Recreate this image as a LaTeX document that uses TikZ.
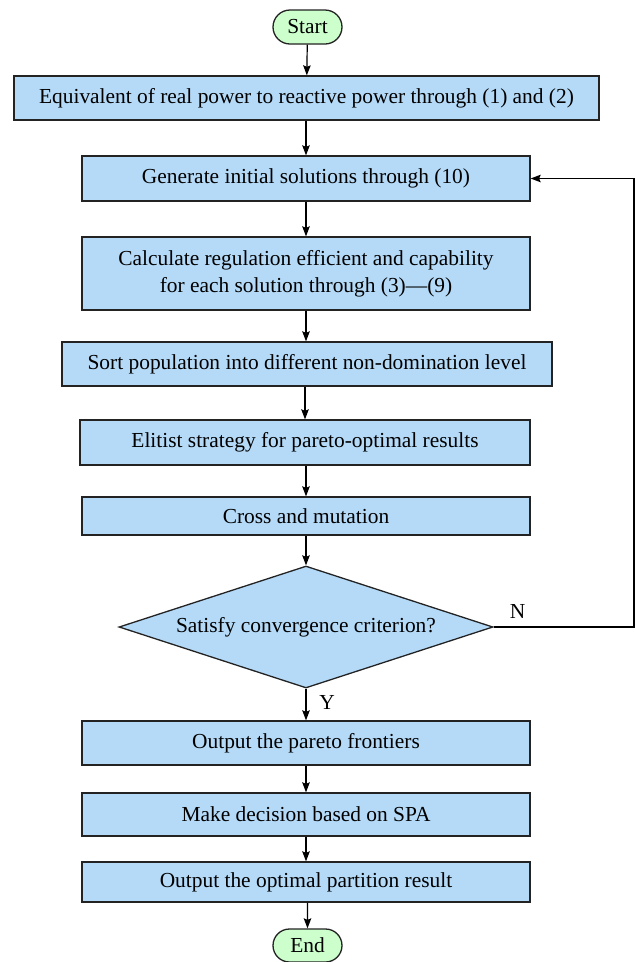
\documentclass[tikz,border=0pt]{standalone}
\usepackage{fontspec}
\setmainfont{Liberation Serif}
\newfontfamily\tnrfont{Liberation Serif}
\usetikzlibrary{shapes.geometric,shapes.misc,arrows.meta}
\definecolor{boxblue}{RGB}{180,218,248}
\definecolor{pillgreen}{RGB}{204,255,204}
\definecolor{edgegray}{RGB}{35,35,35}
\begin{document}
\begin{tikzpicture}[x=1pt,y=-1pt,
  every node/.style={font=\tnrfont\fontsize{21.4}{27}\selectfont, text=black},
  procbox/.style={draw=edgegray, fill=boxblue, line width=1.3pt, rectangle, inner sep=0pt, align=center},
  pill/.style={draw=edgegray, fill=pillgreen, line width=1.3pt, rounded rectangle, inner sep=0pt, minimum width=69pt, minimum height=34pt},
  decision/.style={draw=edgegray, fill=boxblue, line width=1.3pt, diamond, aspect=3.07, inner sep=0pt, minimum width=374pt, minimum height=122pt},
  flow/.style={draw=black, line width=1.2pt, -{Stealth[length=10pt,width=7.5pt,inset=1.5pt]}},
  lbl/.style={inner sep=0pt}
]
\useasboundingbox (0,0) rectangle (636,962);
\node[pill] (start) at (307.5,27) {Start};
\node[procbox, minimum width=585pt, minimum height=44pt] (b1) at (306.5,98) {Equivalent of real power to reactive power through (1) and (2)};
\node[procbox, minimum width=448pt, minimum height=45pt] (b2) at (306,178.5) {Generate initial solutions through (10)};
\node[procbox, minimum width=448pt, minimum height=73pt] (b3) at (306,273.5) {Calculate regulation efficient and capability\\for each solution through (3)—(9)};
\node[procbox, minimum width=490pt, minimum height=44pt] (b4) at (307,364) {Sort population into different non-domination level};
\node[procbox, minimum width=450pt, minimum height=45pt] (b5) at (305,442.5) {Elitist strategy for pareto-optimal results};
\node[procbox, minimum width=448pt, minimum height=38pt] (b6) at (306,516) {Cross and mutation};
\node[decision] (dec) at (306,627) {Satisfy convergence criterion?};
\node[procbox, minimum width=448pt, minimum height=44pt] (b7) at (306,743) {Output the pareto frontiers};
\node[procbox, minimum width=448pt, minimum height=43pt] (b8) at (306,814.5) {Make decision based on SPA};
\node[procbox, minimum width=448pt, minimum height=40pt] (b9) at (306,882) {Output the optimal partition result};
\node[pill, minimum height=33pt] (end) at (307.5,945.5) {End};
\coordinate (lr) at (634,627);
\coordinate (ur) at (634,178.5);
\draw[flow] (start) -- (b1);
\draw[flow] (b1.south -| b2.north) -- (b2.north);
\draw[flow] (b2) -- (b3);
\draw[flow] (b3) -- (b4.north -| b3.south);
\draw[flow] (b4.south -| b5.north) -- (b5);
\draw[flow] (b5.south -| b6.north) -- (b6);
\draw[flow] (b6) -- (dec);
\draw[flow] (dec) -- (b7);
\draw[flow] (b7) -- (b8);
\draw[flow] (b8) -- (b9);
\draw[flow] (b9.south -| end.north) -- (end);
\draw[flow] (dec.east) -- (lr) -- (ur) -- (b2.east);
\node[lbl] (nlab) at (517.5,611) {N};
\node[lbl] (ylab) at (327,702) {Y};
\end{tikzpicture}
\end{document}
